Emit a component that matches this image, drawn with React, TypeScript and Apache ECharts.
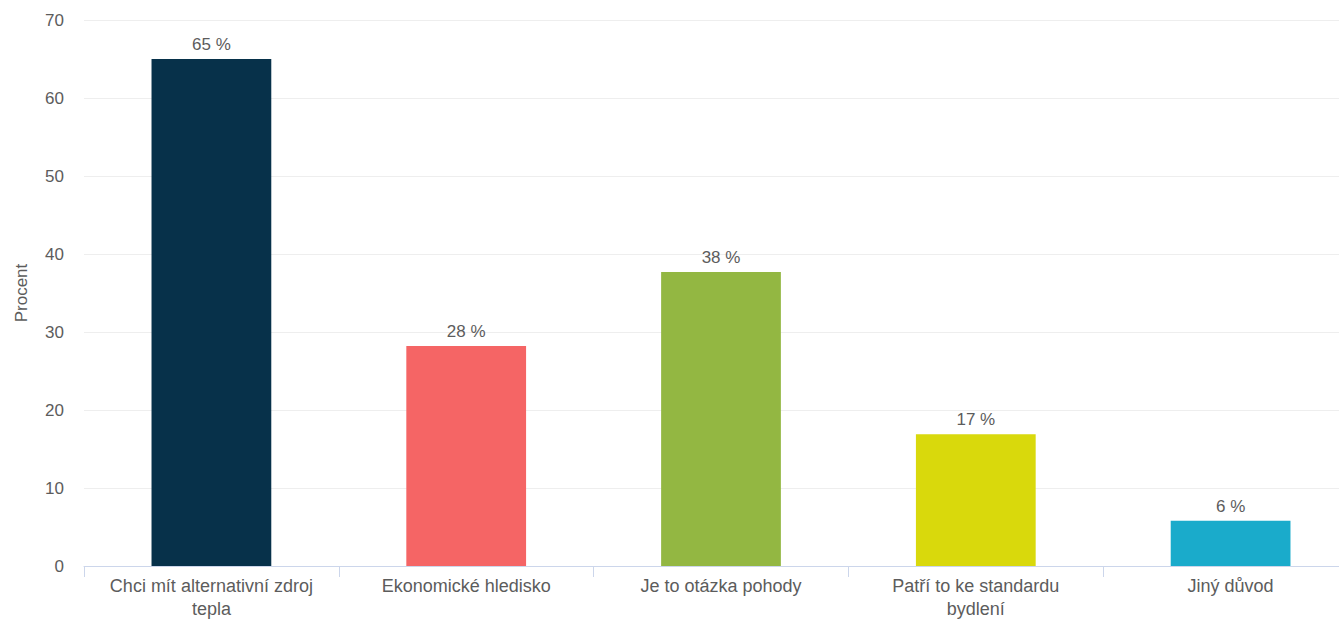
import React, { useEffect, useRef } from "react";
import * as echarts from "echarts";

const categories = [
  "Chci mít alternativní zdroj\ntepla",
  "Ekonomické hledisko",
  "Je to otázka pohody",
  "Patří to ke standardu\nbydlení",
  "Jiný důvod",
];
const values = [65, 28.2, 37.7, 16.9, 5.8];
const barColors = ["#07314a", "#f56565", "#93b742", "#d9d90c", "#1aabcb"];
const yTicks = { min: 0, max: 70, interval: 10 };
const yAxisName = "Procent";

export default function App() {
  const ref = useRef<HTMLDivElement>(null);
  useEffect(() => {
    if (!ref.current) return;
    const chart = echarts.init(ref.current, undefined, { renderer: "svg" });
    const font = "'Liberation Sans', Arial, sans-serif";
    const txt = "#5c5c5c";
    chart.setOption({
      animation: false,
      grid: { left: 84, right: 0, top: 20, bottom: 53, containLabel: false, outerBoundsMode: "none" },
      xAxis: {
        type: "category",
        data: categories,
        axisLine: { lineStyle: { color: "#ccd6eb", width: 1 } },
        axisTick: { show: true, alignWithLabel: false, length: 11, lineStyle: { color: "#ccd6eb" } },
        axisLabel: {
          color: txt,
          fontSize: 18,
          fontFamily: font,
          margin: 8,
          lineHeight: 23,
          interval: 0,
        },
      },
      yAxis: {
        type: "value",
        min: yTicks.min,
        max: yTicks.max,
        interval: yTicks.interval,
        name: yAxisName,
        nameLocation: "middle",
        nameGap: 54,
        nameTextStyle: { color: txt, fontSize: 17, fontFamily: font },
        axisLine: { show: false },
        axisTick: { show: false },
        axisLabel: { color: txt, fontSize: 17, fontFamily: font, margin: 20 },
        splitLine: { lineStyle: { color: "#eeeeee", width: 1 } },
      },
      series: [
        {
          type: "bar",
          data: values.map((v, i) => ({ value: v, itemStyle: { color: barColors[i] } })),
          barWidth: "47%",
          label: {
            show: true,
            position: "top",
            distance: 6,
            color: txt,
            fontSize: 17,
            fontFamily: font,
            formatter: (p: any) => Math.round(p.value) + " %",
          },
        },
      ],
    });
    return () => chart.dispose();
  }, []);
  return (
    <div style={{ position: "fixed", left: 0, top: 0, width: 1339, height: 619, overflow: "hidden", background: "#fff" }}>
      <div ref={ref} style={{ width: 1358, height: 619 }} />
    </div>
  );
}
